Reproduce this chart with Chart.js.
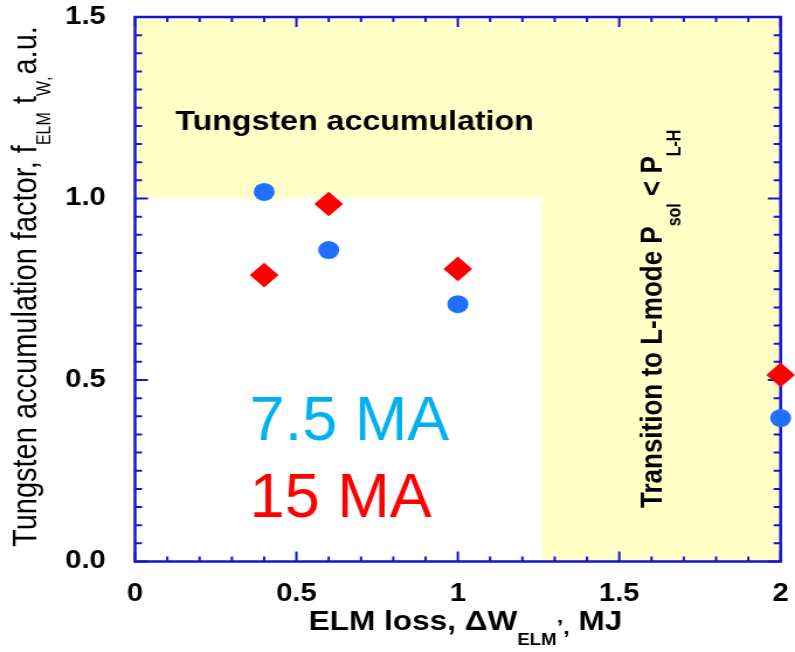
<!DOCTYPE html>
<html>
<head>
<meta charset="utf-8">
<script src="https://cdn.jsdelivr.net/npm/chart.js@4"></script>
<style>
  html, body { margin: 0; padding: 0; background: #fff; overflow: hidden; }
  /* the original figure is stretched sideways, so the chart is drawn narrow and widened */
  #wrap { width: 680px; height: 652px; transform: scaleX(1.16912); transform-origin: 0 0; }
</style>
</head>
<body>
<div id="wrap"><canvas id="chart"></canvas></div>
<script>
const xTickLabels = ['0', '0.5', '1', '1.5', '2'];
const yTickLabels = ['0.0', '0.5', '1.0', '1.5'];

// ELM loss, MJ
const elmLoss = [0.4, 0.6, 1.0, 2.0];
// accumulation factor for each plasma current
const factor75MA = [1.018, 0.858, 0.709, 0.395];
const factor15MA = [0.789, 0.985, 0.806, 0.514];

// edges of the safe (white) region
const safeMaxLoss = 1.26;
const safeMaxFactor = 1.0;

const STRETCH = 795 / 680;
const FONT = '"Liberation Sans", Arial, sans-serif';
const AXIS_BLUE = '#1414D4';

function toPoints(xs, ys) {
  return xs.map((x, i) => ({ x: x, y: ys[i] }));
}

// draws a row of text pieces, subscripts get dropped by dy
function drawRuns(ctx, runs, x, y) {
  let pen = x;
  runs.forEach(r => {
    ctx.font = `${r.weight || 'normal'} ${r.size}px ${FONT}`;
    ctx.fillText(r.t, pen, y + (r.dy || 0));
    pen += ctx.measureText(r.t).width + (r.gap || 0);
  });
}

const backdrop = {
  id: 'backdrop',
  beforeDatasetsDraw(chart) {
    const { ctx, chartArea: a, scales: { x, y } } = chart;
    ctx.save();
    ctx.fillStyle = '#FFFFC8';
    ctx.fillRect(a.left, a.top, a.right - a.left, a.bottom - a.top);

    const wx = x.getPixelForValue(safeMaxLoss);
    const wy = y.getPixelForValue(safeMaxFactor);
    ctx.fillStyle = '#ffffff';
    ctx.fillRect(a.left, wy, wx - a.left, a.bottom - wy);

    // frame with inward ticks on all sides
    ctx.strokeStyle = AXIS_BLUE;
    ctx.lineWidth = 2.5;
    ctx.strokeRect(a.left, a.top, a.right - a.left, a.bottom - a.top);

    ctx.lineWidth = 2;
    ctx.beginPath();
    for (let i = 0; i <= 20; i++) {
      const px = x.getPixelForValue(i / 10);
      const len = i % 5 === 0 ? 10 : 5;
      ctx.moveTo(px, a.bottom);
      ctx.lineTo(px, a.bottom - len);
      ctx.moveTo(px, a.top);
      ctx.lineTo(px, a.top + len);
    }
    for (let i = 0; i <= 30; i++) {
      const py = y.getPixelForValue(i * 0.05);
      const len = i % 10 === 0 ? 11 : 6;
      ctx.moveTo(a.left, py);
      ctx.lineTo(a.left + len, py);
      ctx.moveTo(a.right, py);
      ctx.lineTo(a.right - len, py);
    }
    ctx.stroke();
    ctx.restore();
  }
};

const labels = {
  id: 'labels',
  afterDraw(chart) {
    const ctx = chart.ctx;
    ctx.save();
    ctx.fillStyle = '#000';
    ctx.textBaseline = 'alphabetic';
    ctx.textAlign = 'left';

    // region labels
    drawRuns(ctx, [{ t: 'Tungsten accumulation', size: 27.5, weight: 'bold' }], 150, 130);

    ctx.save();
    ctx.translate(566, 508);
    ctx.rotate(-Math.PI / 2);
    drawRuns(ctx, [
      { t: 'Transition to L-mode P', size: 26, weight: 'bold' },
      { t: 'sol', size: 16, weight: 'bold', dy: 16 },
      { t: ' < P', size: 26, weight: 'bold' },
      { t: 'L-H', size: 16, weight: 'bold', dy: 16 }
    ], 0, 0);
    ctx.restore();

    // series labels, drawn without the sideways stretch
    ctx.save();
    ctx.translate(213.5, 440);
    ctx.scale(1 / STRETCH, 1);
    ctx.font = `63px ${FONT}`;
    ctx.fillStyle = '#00B0F0';
    ctx.fillText('7.5 MA', 0, 0);
    ctx.fillStyle = '#FF0000';
    ctx.fillText('15 MA', 0, 77);
    ctx.restore();

    // x axis title
    ctx.fillStyle = '#000';
    drawRuns(ctx, [
      { t: 'ELM loss, \u0394W', size: 27, weight: 'bold' },
      { t: 'ELM', size: 16, weight: 'bold', dy: 15 },
      { t: '\u2019,', size: 20, weight: 'bold', dy: 4 },
      { t: ' MJ', size: 27, weight: 'bold' }
    ], 264, 630);

    // y axis title
    ctx.save();
    ctx.translate(31, 547);
    ctx.rotate(-Math.PI / 2);
    drawRuns(ctx, [
      { t: 'Tungsten accumulation factor, f', size: 29 },
      { t: 'ELM', size: 16, dy: 12 },
      { t: ' t', size: 29 },
      { t: 'W', size: 16, dy: 12 },
      { t: ',', size: 16, dy: 12, gap: 2 },
      { t: 'a.u.', size: 29 }
    ], 0, 0);
    ctx.restore();

    ctx.restore();
  }
};

new Chart(document.getElementById('chart'), {
  type: 'scatter',
  data: {
    datasets: [
      {
        label: '7.5 MA',
        data: toPoints(elmLoss, factor75MA),
        pointStyle: 'circle',
        pointRadius: 9,
        pointHoverRadius: 9,
        backgroundColor: '#2070FF',
        borderWidth: 0,
        clip: false
      },
      {
        label: '15 MA',
        data: toPoints(elmLoss, factor15MA),
        pointStyle: 'rectRot',
        pointRadius: 12.3,
        pointHoverRadius: 12.3,
        backgroundColor: '#FF0000',
        borderWidth: 0,
        clip: false
      }
    ]
  },
  options: {
    responsive: true,
    maintainAspectRatio: false,
    animation: false,
    layout: { padding: { left: 0, right: 9, top: 17, bottom: 0 } },
    plugins: {
      legend: { display: false },
      tooltip: { enabled: false }
    },
    scales: {
      x: {
        type: 'linear',
        min: 0,
        max: 2,
        grid: { display: false },
        border: { display: false },
        ticks: {
          stepSize: 0.5,
          autoSkip: false,
          maxRotation: 0,
          padding: 9.5,
          color: '#000',
          font: { family: FONT, size: 25, weight: 'bold' },
          callback: (v, i) => xTickLabels[i]
        },
        afterFit(scale) {
          scale.height = 90.5;
          // let the layout padding alone decide the plot box
          scale.paddingLeft = 0;
          scale.paddingRight = 0;
        }
      },
      y: {
        type: 'linear',
        min: 0,
        max: 1.5,
        grid: { display: false },
        border: { display: false },
        ticks: {
          stepSize: 0.5,
          autoSkip: false,
          padding: 17,
          color: '#000',
          font: { family: FONT, size: 25, weight: 'bold' },
          callback: (v, i) => yTickLabels[i]
        },
        afterFit(scale) {
          scale.width = 115.5;
          scale.paddingTop = 0;
          scale.paddingBottom = 0;
        }
      }
    }
  },
  plugins: [backdrop, labels]
});
</script>
</body>
</html>
